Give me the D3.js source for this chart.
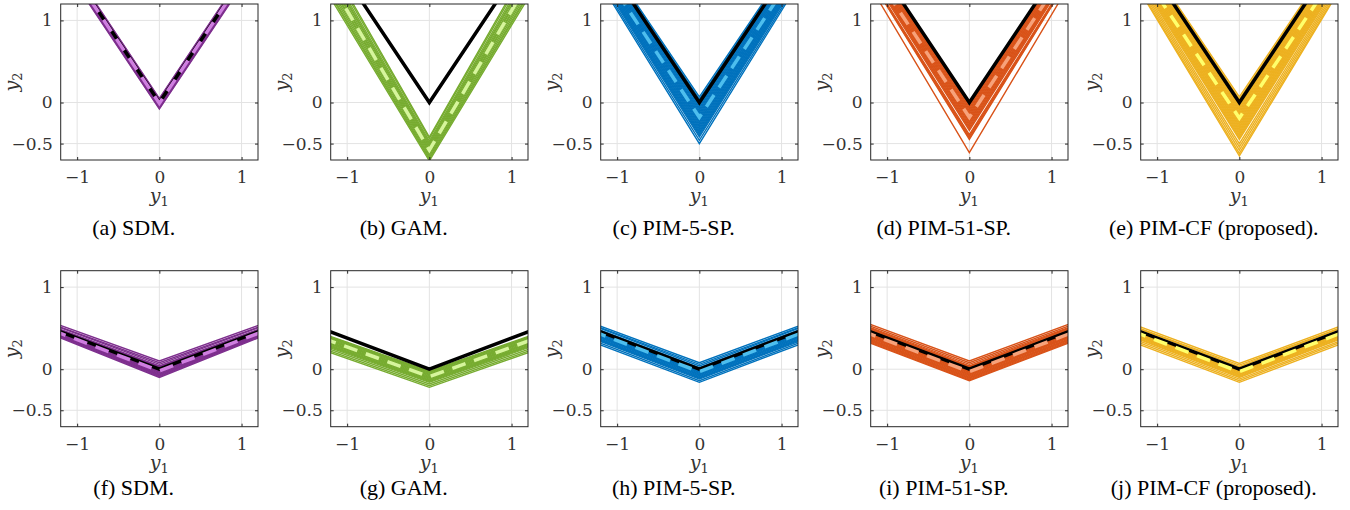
<!DOCTYPE html>
<html>
<head>
<meta charset="utf-8">
<script src="https://cdn.jsdelivr.net/npm/d3@7"></script>
<style>
body { margin: 0; background: #fff; }
</style>
</head>
<body>
<svg id="figure" width="1350" height="510"></svg>
<script>
"use strict";

// One column per method.
var method_names = ["SDM", "GAM", "PIM-5-SP", "PIM-51-SP", "PIM-CF (proposed)"];
var band_colours = ["#7e2f8e", "#77ac30", "#0072bd", "#d95319", "#edb120"];
var mean_colours = ["#cf7ee0", "#d6f59c", "#4dbeee", "#f7a27a", "#ffff6b"];
var panel_letters = ["a", "b", "c", "d", "e", "f", "g", "h", "i", "j"];

var x_domain = [-1.2, 1.2];
var y_domain = [-0.7, 1.2];
var x_ticks = [-1, 0, 1];
var y_ticks = [-0.5, 0, 1];
var y1_samples = [-1.3, 0, 1.3];

// True function y2 = slope * |y1|, one per row.
var true_slopes = [1.5, 0.38];

// Estimates, as [slope, offset] of y2 = slope * |y1| + offset.
var ensemble_top = [
    [[1.5, 0.05], [1.5, 0.04], [1.5, 0.03], [1.5, 0.02], [1.5, 0.01], [1.5, 0], [1.5, -0.01],
     [1.5, -0.02], [1.5, -0.03], [1.5, -0.04], [1.5, -0.05], [1.5, -0.06], [1.5, -0.07], [1.5, -0.08]],
    [[1.75, -0.42], [1.74, -0.44], [1.73, -0.47], [1.72, -0.49], [1.72, -0.51], [1.71, -0.53],
     [1.7, -0.55], [1.7, -0.57], [1.69, -0.59], [1.69, -0.61], [1.68, -0.63], [1.67, -0.65],
     [1.66, -0.67], [1.66, -0.69], [1.65, -0.71]],
    [[1.48, 0.07], [1.49, 0.04], [1.5, 0], [1.5, -0.02], [1.51, -0.04], [1.51, -0.06], [1.52, -0.08],
     [1.52, -0.1], [1.53, -0.12], [1.53, -0.14], [1.54, -0.16], [1.54, -0.18], [1.55, -0.2],
     [1.55, -0.22], [1.56, -0.24], [1.56, -0.26], [1.57, -0.28], [1.57, -0.3], [1.58, -0.32],
     [1.58, -0.34], [1.59, -0.36], [1.59, -0.38], [1.6, -0.4], [1.6, -0.42], [1.61, -0.46], [1.62, -0.5]],
    [[1.5, -0.02], [1.51, -0.04], [1.51, -0.06], [1.52, -0.08], [1.52, -0.1], [1.53, -0.12],
     [1.53, -0.14], [1.54, -0.16], [1.54, -0.18], [1.55, -0.2], [1.55, -0.22], [1.56, -0.24],
     [1.56, -0.26], [1.57, -0.28], [1.57, -0.3], [1.58, -0.32], [1.58, -0.34], [1.59, -0.39],
     [1.6, -0.41], [1.61, -0.43], [1.62, -0.45], [1.68, -0.61]],
    [[1.48, 0.07], [1.49, 0.04], [1.5, 0.01], [1.5, -0.01], [1.51, -0.03], [1.51, -0.05], [1.52, -0.07],
     [1.52, -0.09], [1.53, -0.11], [1.53, -0.13], [1.54, -0.15], [1.54, -0.17], [1.55, -0.19],
     [1.55, -0.21], [1.56, -0.23], [1.56, -0.25], [1.57, -0.27], [1.57, -0.29], [1.58, -0.31],
     [1.58, -0.33], [1.59, -0.35], [1.59, -0.37], [1.6, -0.39], [1.6, -0.41], [1.6, -0.43],
     [1.6, -0.45], [1.62, -0.5], [1.63, -0.54], [1.64, -0.58], [1.65, -0.62], [1.66, -0.65]]
];
var ensemble_bottom = [
    [[0.36, 0.1], [0.36, 0.08], [0.37, 0.06], [0.37, 0.04], [0.37, 0.03], [0.37, 0.02], [0.38, 0.01],
     [0.38, 0], [0.38, -0.01], [0.38, -0.02], [0.38, -0.03], [0.39, -0.04], [0.39, -0.05],
     [0.39, -0.06], [0.39, -0.07], [0.4, -0.08], [0.4, -0.09], [0.4, -0.1]],
    [[0.35, -0.02], [0.35, -0.03], [0.35, -0.04], [0.35, -0.05], [0.35, -0.06], [0.35, -0.07],
     [0.35, -0.08], [0.35, -0.09], [0.35, -0.1], [0.35, -0.11], [0.35, -0.12], [0.35, -0.13],
     [0.35, -0.14], [0.35, -0.15], [0.35, -0.16], [0.35, -0.18], [0.35, -0.2], [0.35, -0.22]],
    [[0.37, 0.08], [0.37, 0.06], [0.38, 0.04], [0.38, 0.02], [0.38, 0.01], [0.38, 0], [0.38, -0.01],
     [0.38, -0.02], [0.38, -0.03], [0.38, -0.04], [0.38, -0.05], [0.38, -0.06], [0.38, -0.07],
     [0.38, -0.08], [0.38, -0.09], [0.38, -0.1], [0.38, -0.11], [0.38, -0.12], [0.38, -0.14], [0.38, -0.16]],
    [[0.37, 0.1], [0.37, 0.08], [0.37, 0.06], [0.38, 0.04], [0.38, 0.03], [0.38, 0.02], [0.38, 0.01],
     [0.38, 0], [0.38, -0.01], [0.38, -0.02], [0.38, -0.03], [0.38, -0.04], [0.38, -0.05],
     [0.38, -0.06], [0.38, -0.07], [0.38, -0.08], [0.38, -0.09], [0.38, -0.1], [0.38, -0.11],
     [0.38, -0.12], [0.38, -0.13], [0.38, -0.14]],
    [[0.37, 0.07], [0.37, 0.05], [0.38, 0.03], [0.38, 0.01], [0.38, 0], [0.38, -0.01], [0.38, -0.02],
     [0.38, -0.03], [0.38, -0.04], [0.38, -0.05], [0.38, -0.06], [0.38, -0.07], [0.38, -0.08],
     [0.38, -0.09], [0.38, -0.1], [0.38, -0.12], [0.38, -0.14], [0.38, -0.16]]
];
var mean_top = [[1.5, -0.01], [1.7, -0.58], [1.52, -0.18], [1.52, -0.18], [1.5, -0.19]];
var mean_bottom = [[0.38, -0.02], [0.36, -0.09], [0.38, -0.03], [0.38, -0.03], [0.38, -0.03]];

// Page layout (pixels).
var box_left0 = 60.7, col_step = 270, box_width = 197.3, box_height = 156;
var box_tops = [4, 270.7];
var caption_baselines = [235, 495];

// Constructor for one subplot.
function Panel(svg, row, col) {
    this.row = row;
    this.col = col;
    this.left = box_left0 + col * col_step;
    this.top = box_tops[row];
    this.x = d3.scaleLinear().domain(x_domain).range([this.left, this.left + box_width]);
    this.y = d3.scaleLinear().domain(y_domain).range([this.top + box_height, this.top]);
    this.g = svg.append("g");
    this.clip_id = "clip-" + row + "-" + col;
}

Panel.prototype.vee = function(slope, offset) {
    var x = this.x, y = this.y;
    var line = d3.line()
        .x(function(d) { return x(d); })
        .y(function(d) { return y(slope * Math.abs(d) + offset); });
    return line(y1_samples);
};

Panel.prototype.draw_grid = function() {
    var x = this.x, y = this.y, top = this.top, left = this.left;
    this.g.append("clipPath").attr("id", this.clip_id)
        .append("rect")
        .attr("x", left).attr("y", top)
        .attr("width", box_width).attr("height", box_height);

    this.g.selectAll(".gx").data(x_ticks).enter().append("line")
        .attr("x1", function(d) { return x(d); }).attr("x2", function(d) { return x(d); })
        .attr("y1", top).attr("y2", top + box_height)
        .attr("stroke", "#e3e3e3").attr("stroke-width", 1);
    this.g.selectAll(".gy").data(y_ticks).enter().append("line")
        .attr("y1", function(d) { return y(d); }).attr("y2", function(d) { return y(d); })
        .attr("x1", left).attr("x2", left + box_width)
        .attr("stroke", "#e3e3e3").attr("stroke-width", 1);
};

Panel.prototype.draw_curves = function(ensemble, mean, true_slope) {
    var self = this;
    var plot = this.g.append("g").attr("clip-path", "url(#" + this.clip_id + ")");

    plot.selectAll(".est").data(ensemble).enter().append("path")
        .attr("d", function(d) { return self.vee(d[0], d[1]); })
        .attr("fill", "none")
        .attr("stroke", band_colours[this.col])
        .attr("stroke-width", 1.4);

    plot.append("path")
        .attr("d", this.vee(true_slope, 0))
        .attr("fill", "none")
        .attr("stroke", "#000")
        .attr("stroke-width", 3.5);

    plot.append("path")
        .attr("d", this.vee(mean[0], mean[1]))
        .attr("fill", "none")
        .attr("stroke", mean_colours[this.col])
        .attr("stroke-width", 3.5)
        .attr("stroke-dasharray", "14,9");
};

Panel.prototype.draw_axes = function() {
    var x = this.x, y = this.y, top = this.top, left = this.left;
    var fmt = d3.format("");
    var bottom = top + box_height;

    function style_axis(sel, labelled) {
        sel.attr("font-family", null).attr("font-size", null);
        sel.select(".domain").remove();
        sel.selectAll(".tick line").attr("stroke", "#262626");
        sel.selectAll(".tick text")
            .attr("fill", labelled ? "#333" : "none")
            .style("font-family", "'DejaVu Serif', serif")
            .style("font-size", "17px");
    }

    this.g.append("g").attr("transform", "translate(0," + bottom + ")")
        .call(d3.axisBottom(x).tickValues(x_ticks).tickFormat(fmt).tickSizeInner(-3).tickSizeOuter(0).tickPadding(11))
        .call(style_axis, true);
    this.g.append("g").attr("transform", "translate(0," + top + ")")
        .call(d3.axisTop(x).tickValues(x_ticks).tickFormat("").tickSizeInner(-3).tickSizeOuter(0))
        .call(style_axis, false);
    this.g.append("g").attr("transform", "translate(" + left + ",0)")
        .call(d3.axisLeft(y).tickValues(y_ticks).tickFormat(fmt).tickSizeInner(-3).tickSizeOuter(0).tickPadding(8))
        .call(style_axis, true);
    this.g.append("g").attr("transform", "translate(" + (left + box_width) + ",0)")
        .call(d3.axisRight(y).tickValues(y_ticks).tickFormat("").tickSizeInner(-3).tickSizeOuter(0))
        .call(style_axis, false);

    this.g.append("rect")
        .attr("x", left).attr("y", top)
        .attr("width", box_width).attr("height", box_height)
        .attr("fill", "none").attr("stroke", "#262626").attr("stroke-width", 1);
};

Panel.prototype.draw_labels = function() {
    var left = this.left, top = this.top;
    var cx = left + box_width / 2;

    var xl = this.g.append("text")
        .attr("x", cx).attr("y", top + box_height + 42)
        .attr("text-anchor", "middle")
        .style("font-family", "'DejaVu Serif', serif")
        .style("font-size", "19px")
        .attr("fill", "#333");
    xl.append("tspan").style("font-style", "italic").text("y");
    xl.append("tspan").attr("dy", 4).style("font-size", "13px").text("1");

    var yl = this.g.append("text")
        .attr("transform", "translate(" + (left - 43) + "," + (top + box_height / 2) + ") rotate(-90)")
        .attr("text-anchor", "middle")
        .style("font-family", "'DejaVu Serif', serif")
        .style("font-size", "19px")
        .attr("fill", "#333");
    yl.append("tspan").style("font-style", "italic").text("y");
    yl.append("tspan").attr("dy", 4).style("font-size", "13px").text("2");

    var letter = panel_letters[this.row * 5 + this.col];
    this.g.append("text")
        .attr("x", left + 73).attr("y", caption_baselines[this.row])
        .attr("text-anchor", "middle")
        .style("font-family", "'Liberation Serif', 'Times New Roman', serif")
        .style("font-size", "22px")
        .attr("fill", "#000")
        .text("(" + letter + ") " + method_names[this.col] + ".");
};

var svg = d3.select("#figure");
[ensemble_top, ensemble_bottom].forEach(function(ensembles, row) {
    var means = row === 0 ? mean_top : mean_bottom;
    method_names.forEach(function(_name, col) {
        var p = new Panel(svg, row, col);
        p.draw_grid();
        p.draw_curves(ensembles[col], means[col], true_slopes[row]);
        p.draw_axes();
        p.draw_labels();
    });
});
</script>
</body>
</html>
